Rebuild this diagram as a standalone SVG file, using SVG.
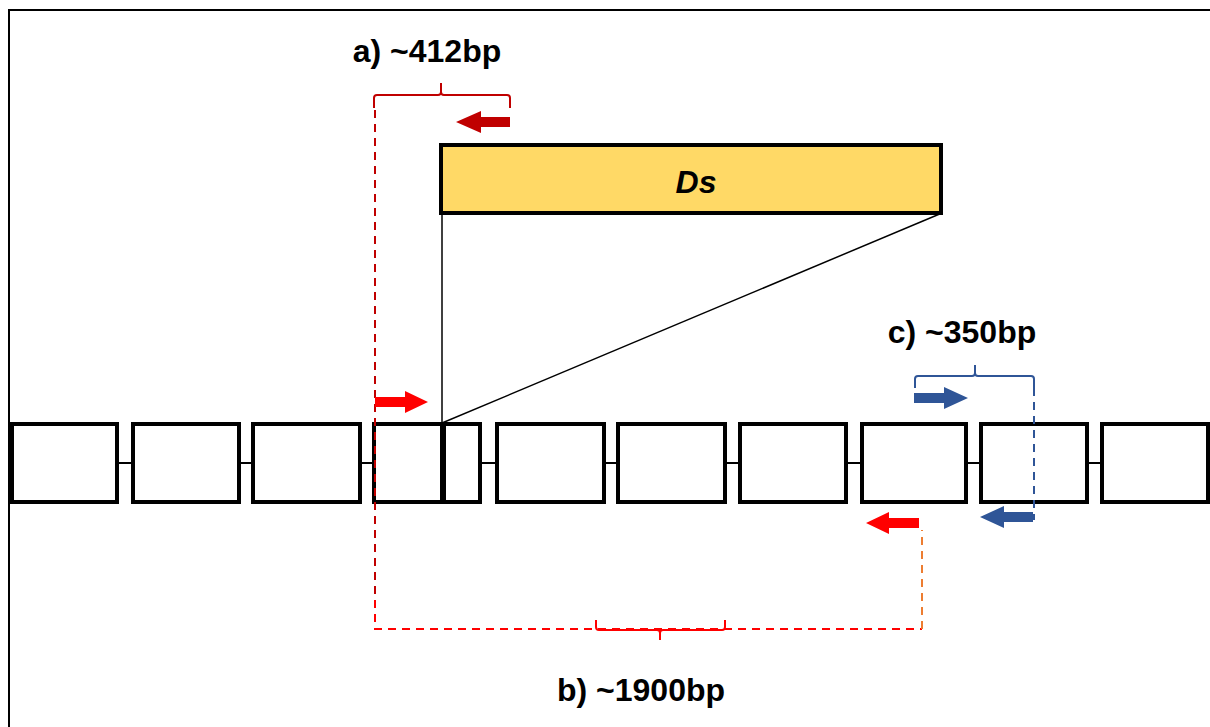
<svg xmlns="http://www.w3.org/2000/svg" width="1210" height="727" viewBox="0 0 1210 727">
<style>
.seg{fill:#fff;stroke:#000;stroke-width:4}
.link{stroke:#000;stroke-width:2}
.lbl{font-family:"Liberation Sans",Arial,sans-serif;font-weight:bold;font-size:32px;fill:#000;text-anchor:middle}
.dash{fill:none;stroke-width:2;stroke-dasharray:8,6}
.brace{fill:none;stroke-width:2}
</style>
<rect width="1210" height="727" fill="#fff"/>
<path d="M9,740 V10 H1212" fill="none" stroke="#000" stroke-width="2"/>
<g id="connectors">
<line class="link" x1="117" y1="463" x2="131" y2="463"/>
<line class="link" x1="239" y1="463" x2="251" y2="463"/>
<line class="link" x1="360" y1="463" x2="374" y2="463"/>
<line class="link" x1="481" y1="463" x2="495" y2="463"/>
<line class="link" x1="604" y1="463" x2="616" y2="463"/>
<line class="link" x1="725" y1="463" x2="738" y2="463"/>
<line class="link" x1="846" y1="463" x2="860" y2="463"/>
<line class="link" x1="966" y1="463" x2="979" y2="463"/>
<line class="link" x1="1087" y1="463" x2="1100" y2="463"/>
<line x1="442" y1="213" x2="442" y2="423" stroke="#000" stroke-width="1.5"/>
<line x1="942" y1="213" x2="442" y2="423" stroke="#000" stroke-width="1.5"/>
</g>
<g id="segments">
<rect id="s1" class="seg" x="12" y="424" width="105" height="78"/>
<rect id="s2" class="seg" x="133" y="424" width="106" height="78"/>
<rect id="s3" class="seg" x="253" y="424" width="107" height="78"/>
<rect id="s4" class="seg" x="374" y="424" width="106" height="78"/>
<rect id="s5" class="seg" x="497" y="424" width="107" height="78"/>
<rect id="s6" class="seg" x="618" y="424" width="107" height="78"/>
<rect id="s7" class="seg" x="740" y="424" width="106" height="78"/>
<rect id="s8" class="seg" x="862" y="424" width="104" height="78"/>
<rect id="s9" class="seg" x="981" y="424" width="106" height="78"/>
<rect id="s10" class="seg" x="1102" y="424" width="106" height="78"/>
<line x1="443" y1="422" x2="443" y2="504" stroke="#000" stroke-width="6"/>
</g>
<g id="ds">
<rect x="441" y="145" width="500" height="68" fill="#FFD966" stroke="#000" stroke-width="4"/>
<text x="696" y="193" class="lbl" font-style="italic" font-size="34">Ds</text>
</g>
<g id="primers-a">
<path class="dash" stroke="#C00000" d="M375,110 V600"/>
<path class="brace" stroke="#C00000" d="M374,108 V98 Q374,95 377,95 H438 Q441,95 441,92 V83 M441,92 Q441,95 444,95 H507 Q510,95 510,98 V108"/>
<polygon fill="#C00000" points="456,122 481,111 481,117 510,117 510,127 481,127 481,133"/>
<text class="lbl" x="427" y="62">a) ~412bp</text>
</g>
<g id="primers-b">
<path class="dash" stroke="#FF0000" d="M375,600 V629 H922"/>
<path class="dash" stroke="#ED7D31" d="M922,629 V530"/>
<path class="brace" stroke="#FF0000" d="M596,620 V627 Q596,630 599,630 H657 Q660,630 660,633 V640 M660,633 Q660,630 663,630 H722 Q725,630 725,627 V620"/>
<polygon fill="#FF0000" points="375,397 375,407 405,407 405,413 428,402 405,391 405,397"/>
<polygon fill="#FF0000" points="866,523 889,512 889,518 919,518 919,528 889,528 889,534"/>
<text class="lbl" x="641" y="701">b) ~1900bp</text>
</g>
<g id="primers-c">
<path class="brace" stroke="#2F5597" d="M915,388 V379 Q915,376 918,376 H972 Q975,376 975,373 V365 M975,373 Q975,376 978,376 H1031 Q1034,376 1034,379 V388"/>
<path class="dash" stroke="#2F5597" stroke-width="1.5" d="M1034,388 V520"/>
<polygon fill="#2F5597" points="914,393 914,403 944,403 944,409 968,398 944,387 944,393"/>
<polygon fill="#2F5597" points="980,517 1004,506 1004,512 1033,512 1033,522 1004,522 1004,528"/>
<text class="lbl" x="962" y="343">c) ~350bp</text>
</g>
</svg>
